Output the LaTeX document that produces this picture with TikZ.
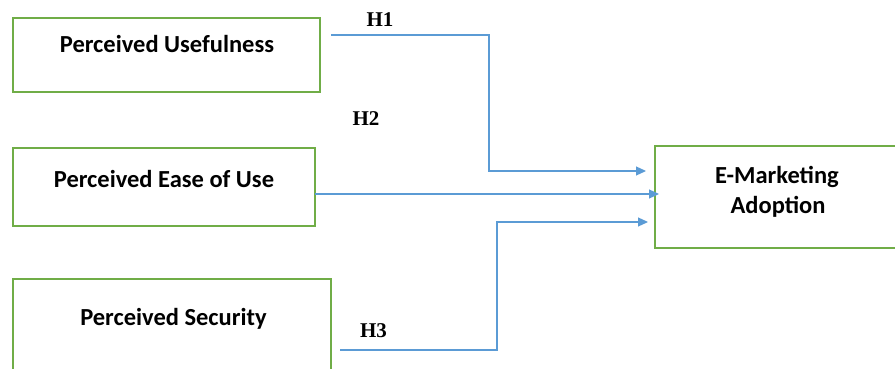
\documentclass[tikz,border=0pt]{standalone}
\usepackage{fontspec}
\setmainfont{Carlito}
\newfontfamily\hfont{Liberation Serif}
\usetikzlibrary{arrows.meta}
\definecolor{boxgreen}{RGB}{112,173,71}
\definecolor{arrowblue}{RGB}{91,155,213}
\tikzset{
  box/.style={draw=boxgreen, line width=1.6pt},
  boxtext/.style={font=\bfseries\fontsize{24.5}{30}\selectfont, anchor=base, inner sep=0pt},
  link/.style={draw=arrowblue, line width=1.1pt},
  tip/.style={-{Triangle[length=10pt,width=9pt]}},
  hyp/.style={font=\hfont\bfseries\fontsize{21}{25}\selectfont, anchor=base, inner sep=0pt},
}
\begin{document}
\begin{tikzpicture}[x=1pt,y=-1pt]
\useasboundingbox (0,0) rectangle (895,369);
% boxes
\draw[box] (13,18) rectangle (320,92);
\node[boxtext] (pu) at (167,53) {Perceived Usefulness};
\draw[box] (13,148) rectangle (315,226);
\node[boxtext] (pe) at (164,187) {Perceived Ease of Use};
\draw[box] (13,279) rectangle (331,380);
\node[boxtext] (ps) at (173.5,325) {Perceived Security};
\draw[box] (655,146) rectangle (900,248);
\node[boxtext] (em1) at (777,183) {E-Marketing};
\node[boxtext] (em2) at (778,213) {Adoption};
% connector anchors
\coordinate (s1) at (331,35);
\coordinate (b1) at (489,35);
\coordinate (e1) at (646,171);
\coordinate (s2) at (315,194);
\coordinate (e2) at (659,194);
\coordinate (s3) at (340,350);
\coordinate (b3) at (497,350);
\coordinate (e3) at (648,222);
\draw[link,tip] (s1) -- (b1) |- (e1);
\draw[link,tip] (s2) -- (e2);
\draw[link,tip] (s3) -- (b3) |- (e3);
% labels
\node[hyp] (h1) at (380,27) {H1};
\node[hyp] (h2) at (366,125) {H2};
\node[hyp] (h3) at (373.5,337) {H3};
\end{tikzpicture}
\end{document}
